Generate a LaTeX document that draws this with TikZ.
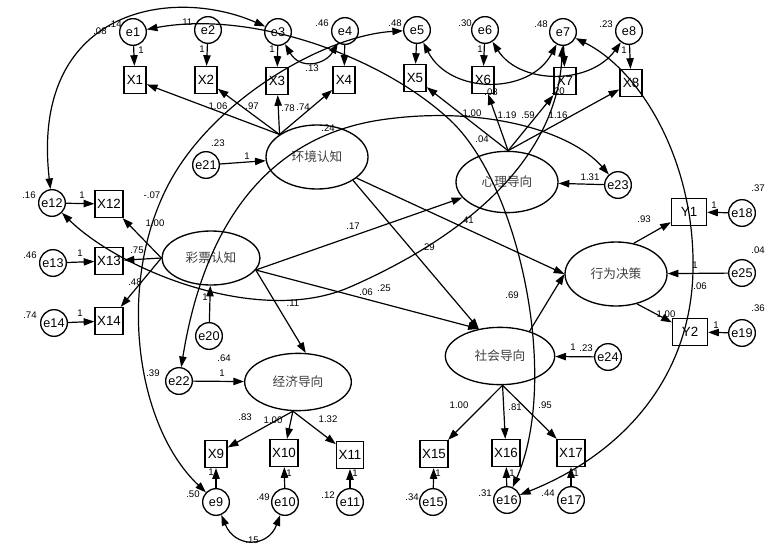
\documentclass[tikz,border=0pt]{standalone}
\usepackage{fontspec}
\setmainfont{Liberation Sans}
\newfontfamily\cjk{Noto Sans CJK SC}
\usetikzlibrary{arrows.meta,shapes.geometric}
\begin{document}
\begin{tikzpicture}[x=0.75pt,y=-0.75pt,
  lat/.style={ellipse, draw, line width=1pt, inner sep=0pt, font=\cjk\fontsize{9.5}{10}\selectfont, text=black!75},
  err/.style={circle, draw, line width=1pt, minimum size=20pt, inner sep=0pt, font=\fontsize{9.5}{10}\selectfont},
  obs/.style={rectangle, draw, line width=1.2pt, minimum width=16.5pt, minimum height=20pt, inner sep=1.5pt, font=\fontsize{10}{11}\selectfont},
  lbl/.style={font=\fontsize{7.2}{8}\selectfont, inner sep=0pt},
  reg/.style={line width=0.9pt, -{Triangle[length=8pt,width=5.5pt]}},
  cov/.style={line width=0.9pt, {Triangle[length=8pt,width=5.5pt]}-{Triangle[length=8pt,width=5.5pt]}}]
\fill[white] (0,0) rectangle (773,546);
\useasboundingbox (0,0) rectangle (773,546);
% top error terms
\node[err] (e1) at (133,32) {e1};
\node[err] (e2) at (208,30) {e2};
\node[err] (e3) at (278,32) {e3};
\node[err] (e4) at (345,31) {e4};
\node[err] (e5) at (417,30) {e5};
\node[err] (e6) at (485,30) {e6};
\node[err] (e7) at (563,32) {e7};
\node[err] (e8) at (629,31) {e8};
% top indicators
\node[obs] (X1) at (135,80) {X1};
\node[obs] (X2) at (206,80) {X2};
\node[obs] (X3) at (277,81) {X3};
\node[obs] (X4) at (344,80) {X4};
\node[obs] (X5) at (415,78) {X5};
\node[obs] (X6) at (483,80) {X6};
\node[obs] (X7) at (565,81) {X7};
\node[obs] (X8) at (631,83) {X8};
% latent variables
\node[lat, minimum width=76.5pt, minimum height=48pt] (env) at (317,157) {环境认知};
\node[lat, minimum width=76.5pt, minimum height=46pt] (psy) at (507,182) {心理导向};
\node[lat, minimum width=73.5pt, minimum height=40.5pt] (lot) at (211,258) {彩票认知};
\node[lat, minimum width=80pt, minimum height=43pt] (eco) at (298,382) {经济导向};
\node[lat, minimum width=82pt, minimum height=43pt] (soc) at (500,356) {社会导向};
\node[lat, minimum width=76.5pt, minimum height=48pt] (dec) at (616,274) {行为决策};
% disturbances
\node[err] (e21) at (206,165) {e21};
\node[err] (e23) at (618,185) {e23};
\node[err] (e20) at (209,336) {e20};
\node[err] (e22) at (179,381) {e22};
\node[err] (e24) at (608,357) {e24};
\node[err] (e25) at (742,273) {e25};
% left indicators
\node[err] (e12) at (52,203) {e12};
\node[err] (e13) at (53,263) {e13};
\node[err] (e14) at (54,323) {e14};
\node[obs] (X12) at (109,204) {X12};
\node[obs] (X13) at (109,261) {X13};
\node[obs] (X14) at (109,321) {X14};
% bottom indicators
\node[obs] (X9) at (216,454) {X9};
\node[obs] (X10) at (284,453) {X10};
\node[obs] (X11) at (350,455) {X11};
\node[obs] (X15) at (434,454) {X15};
\node[obs] (X16) at (506,453) {X16};
\node[obs] (X17) at (571,453) {X17};
\node[err] (e9) at (216,502) {e9};
\node[err] (e10) at (285,502) {e10};
\node[err] (e11) at (350,502) {e11};
\node[err] (e15) at (433,502) {e15};
\node[err] (e16) at (507,500) {e16};
\node[err] (e17) at (571,500) {e17};
% right indicators
\node[obs, minimum width=26pt] (Y1) at (689,212) {Y1};
\node[obs, minimum width=26pt] (Y2) at (690,332) {Y2};
\node[err] (e18) at (742,213) {e18};
\node[err] (e19) at (742,333) {e19};
% error paths
\foreach \e/\x in {e1/X1,e2/X2,e3/X3,e4/X4,e5/X5,e6/X6,e7/X7,e8/X8,e12/X12,e13/X13,e14/X14,e9/X9,e10/X10,e11/X11,e15/X15,e16/X16,e17/X17,e18/Y1,e19/Y2}
  \draw[reg] (\e) -- (\x);
\draw[reg] (e21) -- (env);
\draw[reg] (e23) -- (psy);
\draw[reg] (e20) -- (lot);
\draw[reg] (e22) -- (eco);
\draw[reg] (e24) -- (soc);
\draw[reg] (e25) -- (dec);
% loadings
\foreach \x in {X1,X2,X3,X4} \draw[reg] (env.149) -- (\x);
\foreach \x in {X5,X6,X7,X8} \draw[reg] (psy.88) -- (\x);
\foreach \x in {X12,X13,X14} \draw[reg] (lot.west) -- (\x);
\foreach \x in {X9,X10,X11} \draw[reg] (eco.-100) -- (\x);
\foreach \x in {X15,X16,X17} \draw[reg] (soc.-85) -- (\x);
\draw[reg] (dec.60) -- (Y1);
\draw[reg] (dec.-55) -- (Y2);
% structural paths
\draw[reg] (lot.-15) -- (psy);
\draw[reg] (lot.-15) -- (soc.128);
\draw[reg] (lot.-15) -- (eco.75);
\draw[reg] (env.-33) -- (soc.128);
\draw[reg] (env.-28) -- (dec.west);
\draw[reg] (soc.40) -- (dec.west);
% covariances
\draw[cov] (e3) .. controls (170,-15) and (30,10) .. (e12);
\draw[cov] (e1) .. controls (250,10) and (380,55) .. (450,120) .. controls (520,185) and (560,380) .. (e16);
\draw[cov] (e3) .. controls (300,70) and (325,65) .. (e4);
\draw[cov] (e5) .. controls (330,35) and (230,90) .. (180,165) .. controls (115,262) and (130,420) .. (e9);
\draw[cov] (e5) .. controls (450,95) and (530,95) .. (e7);
\draw[cov] (e6) .. controls (520,85) and (590,85) .. (e8);
\draw[cov] (e7) .. controls (558,150) and (480,230) .. (350,287) .. controls (259,327) and (120,270) .. (e12);
\draw[cov] (e22) .. controls (200,250) and (250,140) .. (380,120) .. controls (480,105) and (570,130) .. (e23);
\draw[cov] (e7) .. controls (640,70) and (695,160) .. (693,270) .. controls (691,380) and (620,455) .. (e16);
\draw[cov] (e9) .. controls (235,548) and (268,548) .. (e10);
% labels
\foreach \p/\t in {{(100,31)}/.08,{(115,24)}/.14,{(186,22)}/.11,{(322,23)}/.46,{(395,23)}/.48,{(465,23)}/.30,{(541,24)}/.48,{(606,24)}/.23,
  {(141,50)}/1,{(202,49)}/1,{(272,49)}/1,{(480,49)}/1,{(624,50)}/1,
  {(312,68)}/.13,{(218,106)}/1.06,{(252,106)}/.97,{(288,108)}/.78,{(303,107)}/.74,{(328,128)}/.24,
  {(218,143)}/.23,{(247,156)}/1,
  {(472,113)}/1.00,{(491,92)}/.08,{(507,115)}/1.19,{(528,115)}/.59,{(558,115)}/1.16,{(482,139)}/.04,{(558,91)}/.20,
  {(590,177)}/1.31,{(353,226)}/.17,{(428,247)}/.29,{(467,220)}/.41,{(366,292)}/.06,{(384,288)}/.25,{(293,303)}/.11,
  {(152,195)}/-.07,{(155,223)}/1.00,{(137,250)}/.75,{(135,282)}/.48,
  {(29,195)}/.16,{(30,255)}/.46,{(30,315)}/.74,{(82,195)}/1,{(80,253)}/1,{(80,313)}/1,
  {(205,297)}/1,{(224,358)}/.64,{(222,373)}/1,{(153,373)}/.39,
  {(245,417)}/.83,{(273,420)}/1.00,{(328,419)}/1.32,
  {(211,472)}/1,{(289,473)}/1,{(355,473)}/1,{(438,473)}/1,{(512,473)}/1,{(576,473)}/1,
  {(193,494)}/.50,{(263,497)}/.49,{(328,495)}/.12,{(412,497)}/.34,{(485,493)}/.31,{(548,493)}/.44,
  {(252,540)}/.15,{(459,405)}/1.00,{(515,407)}/.81,{(545,405)}/.95,
  {(573,347)}/1,{(586,348)}/.23,{(512,295)}/.69,
  {(644,219)}/.93,{(666,314)}/1.00,{(700,286)}/.06,{(695,265)}/1,
  {(758,188)}/.37,{(758,250)}/.04,{(758,308)}/.36,{(714,205)}/1,{(716,325)}/1}
  \node[lbl] at \p {\t};
\end{tikzpicture}
\end{document}
